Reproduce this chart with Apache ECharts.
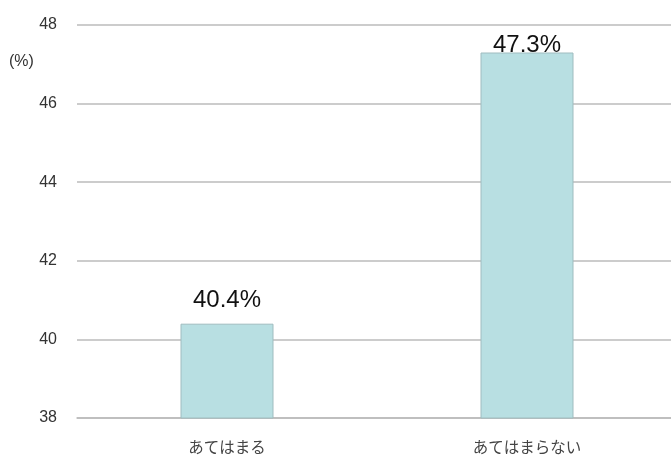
<!DOCTYPE html>
<html>
<head>
<meta charset="utf-8">
<script src="https://cdn.jsdelivr.net/npm/echarts@6/dist/echarts.min.js"></script>
<style>
  html, body { margin: 0; padding: 0; background: #fff; overflow: hidden; }
  #chart { width: 677px; height: 457px; }
</style>
</head>
<body>
<div id="chart"></div>
<script>
  // カテゴリと値
  const categories = ['あてはまる', 'あてはまらない'];
  const values = [40.4, 47.3];
  const labelGaps = [11, -5];

  const chart = echarts.init(document.getElementById('chart'));
  chart.setOption({
    animation: false,
    textStyle: { fontFamily: '"Noto Sans CJK JP", "Liberation Sans", sans-serif' },
    title: {
      text: '(%)',
      left: 4,
      top: 49,
      textStyle: { fontSize: 16, fontWeight: 'normal', color: '#333', fontFamily: '"Liberation Sans", sans-serif' }
    },
    grid: { left: 77, right: 0, top: 25, bottom: 39 },
    xAxis: {
      type: 'category',
      data: categories,
      axisLine: { show: true, lineStyle: { color: '#bbb', width: 1.5 } },
      axisTick: { show: false },
      axisLabel: { fontSize: 15.5, color: '#444', margin: 21 }
    },
    yAxis: {
      type: 'value',
      min: 38,
      max: 48,
      interval: 2,
      axisLine: { show: false },
      axisTick: { show: false },
      axisLabel: { fontSize: 16, color: '#333', margin: 20, fontFamily: '"Liberation Sans", sans-serif' },
      splitLine: { lineStyle: { color: '#bbb', width: 1.5 } }
    },
    series: [{
      type: 'bar',
      barWidth: '31%',
      data: values.map((v, i) => ({
        value: v,
        label: { distance: labelGaps[i] }
      })),
      itemStyle: { color: '#b8dfe2', borderColor: '#9fbcbf', borderWidth: 1 },
      label: {
        show: true,
        position: 'top',
        formatter: p => p.value + '%',
        fontSize: 24,
        color: '#111',
        fontFamily: '"Liberation Sans", sans-serif'
      }
    }]
  });
</script>
</body>
</html>
